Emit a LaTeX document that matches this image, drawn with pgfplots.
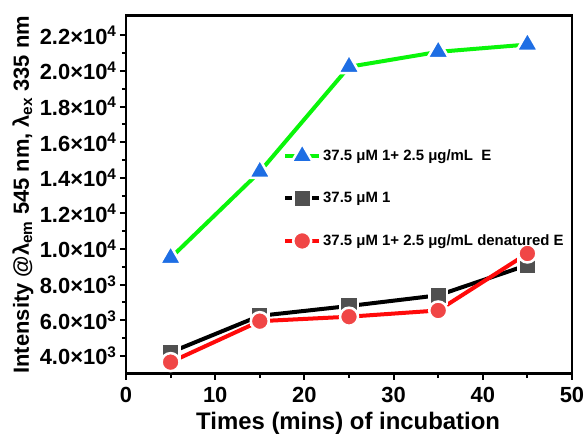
\documentclass[border=0pt]{standalone}
\usepackage{fontspec}
\setmainfont{Liberation Sans}
\usepackage{pgfplots}
\pgfplotsset{compat=1.18}
\definecolor{lgreen}{RGB}{10,245,10}
\definecolor{tblue}{RGB}{30,110,228}
\definecolor{sgray}{RGB}{80,80,80}
\definecolor{lred}{RGB}{255,10,10}
\definecolor{cred}{RGB}{240,70,70}
\begin{document}
\begin{tikzpicture}
\useasboundingbox (-126bp,-60bp) rectangle (460bp,373.7bp);
\begin{axis}[
  at={(0,0)}, anchor=south west,
  scale only axis, width=446bp, height=358bp,
  xmin=0, xmax=50, ymin=3000, ymax=23100,
  xtick={0,10,...,50}, minor x tick num=1,
  ytick={4000,6000,...,22000}, minor y tick num=1,
  scaled y ticks=false,
  yticklabels={4.0×10\textsuperscript{3},6.0×10\textsuperscript{3},8.0×10\textsuperscript{3},1.0×10\textsuperscript{4},1.2×10\textsuperscript{4},1.4×10\textsuperscript{4},1.6×10\textsuperscript{4},1.8×10\textsuperscript{4},2.0×10\textsuperscript{4},2.2×10\textsuperscript{4}},
  tick align=outside, xtick pos=lower, ytick pos=left,
  axis line style={line width=2.5bp},
  major tick length=6bp, minor tick length=4bp,
  every tick/.style={line width=2bp, black},
  /pgf/number format/assume math mode=true,
  ticklabel style={font=\fontsize{22}{24}\selectfont\bfseries},
  xticklabel style={yshift=-6bp, inner sep=1bp},
  xlabel={Times (mins) of incubation},
  ylabel={Intensity @λ\textsubscript{em} 545 nm, λ\textsubscript{ex} 335 nm},
  label style={font=\fontsize{22}{24}\selectfont\bfseries},
  xlabel style={at={(axis description cs:0.498,-0.156)}, anchor=base, inner sep=1bp, font=\fontsize{24}{26}\selectfont\bfseries},
  ylabel style={at={(axis description cs:-0.231,0.5)}, anchor=center},
  legend style={draw=none, fill=none, at={(axis description cs:0.352,0.643)}, anchor=north west,
    font=\fontsize{15}{17}\selectfont\bfseries, row sep=25bp, inner sep=0pt, cells={anchor=west}},
  legend image code/.code={\draw[mark repeat=2,mark phase=2,#1] plot coordinates {(0bp,0bp) (17bp,0bp) (34bp,0bp)};},
  clip=false,
]
\addplot[color=lgreen, line width=4bp, mark=triangle*, mark size=12.5bp,
  mark options={fill=tblue, draw=white, line width=2.5bp, line join=round, solid}]
  coordinates {(5,9500) (15,14340) (25,20230) (35,21070) (45,21480)};
\addlegendentry{37.5 μM 1+ 2.5 μg/mL\ \ E}
\addplot[color=black, line width=4bp, mark=square*, mark size=8.8bp,
  mark options={fill=sgray, draw=white, line width=2.5bp, solid}]
  coordinates {(5,4200) (15,6250) (25,6800) (35,7400) (45,9100)};
\addlegendentry{37.5 μM 1}
\addplot[color=lred, line width=4bp, mark=*, mark size=9bp,
  mark options={fill=cred, draw=white, line width=2.5bp, solid}]
  coordinates {(5,3650) (15,5950) (25,6200) (35,6550) (45,9750)};
\addlegendentry{37.5 μM 1+ 2.5 μg/mL denatured E}
\end{axis}
\end{tikzpicture}
\end{document}
